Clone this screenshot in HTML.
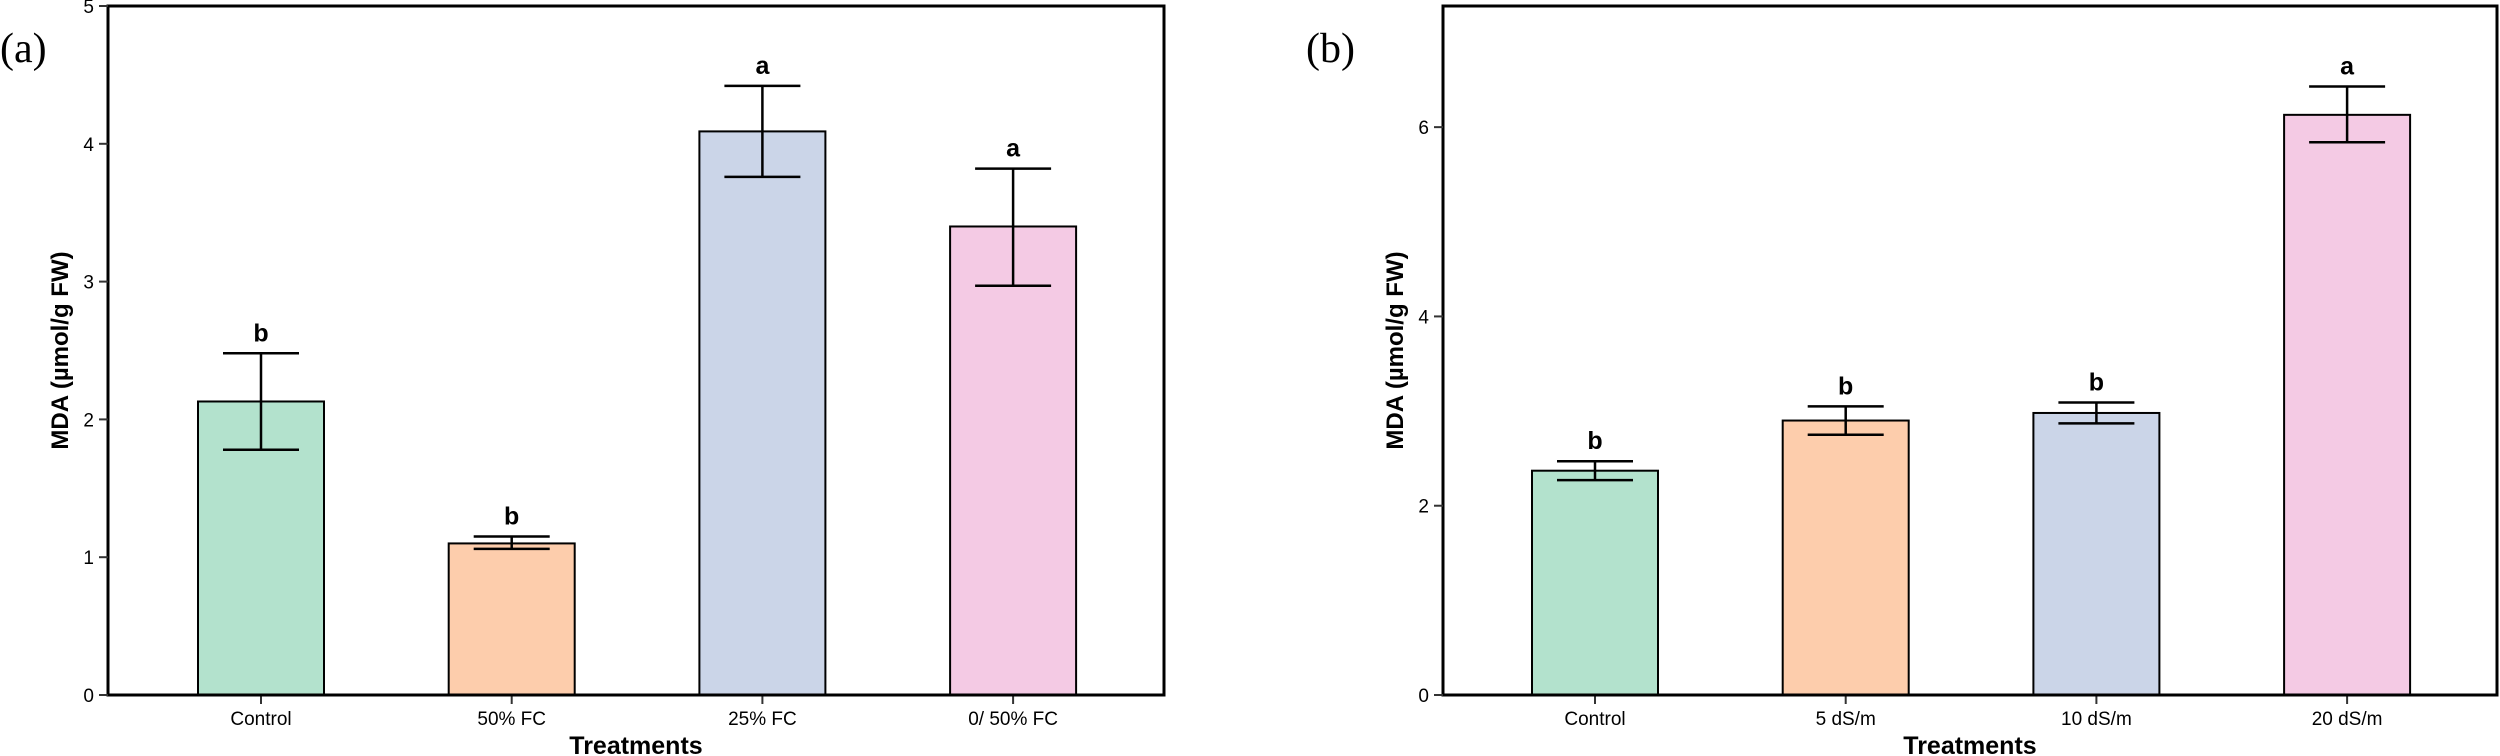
<!DOCTYPE html>
<html><head><meta charset="utf-8"><style>
html,body{margin:0;padding:0;background:#fff;}
svg{display:block;font-family:"Liberation Sans",Arial,sans-serif;}
</style></head><body>
<svg id="chart" width="2500" height="756" viewBox="0 0 2500 756" xmlns="http://www.w3.org/2000/svg"></svg>
<script>
const catsA = ["Control","50% FC","25% FC","0/ 50% FC"];
const valsA = [2.13,1.10,4.09,3.40];
const loA = [1.78,1.06,3.76,2.97];
const hiA = [2.48,1.15,4.42,3.82];
const letA = ["b","b","a","a"];
const ticksA = [0,1,2,3,4,5];
const catsB = ["Control","5 dS/m","10 dS/m","20 dS/m"];
const valsB = [2.37,2.90,2.98,6.13];
const loB = [2.27,2.75,2.87,5.84];
const hiB = [2.47,3.05,3.09,6.43];
const letB = ["b","b","b","a"];
const ticksB = [0,2,4,6];
const colors = ["#b3e2cd","#fdcdac","#cbd5e8","#f4cae4"];
const svg = document.getElementById('chart');
const NS = "http://www.w3.org/2000/svg";
function mk(tag, attrs, parent){const e=document.createElementNS(NS,tag);for(const k in attrs)e.setAttribute(k,attrs[k]);(parent||svg).appendChild(e);return e;}
function panel(id,label,labelX,x0,x1,yTop,yMax,cats,vals,lo,hi,lets,ticks,firstC,step){
  const y0=695;
  const g=mk('g',{});
  
  
  const ys=v=>y0-(v/yMax)*(y0-yTop);
  const xs=i=>firstC+i*step;
  const bw=126, cap=76;
  // bars
  cats.forEach((c,i)=>{
    const r=mk('rect',{x:xs(i)-bw/2,y:ys(vals[i]),width:bw,height:y0-ys(vals[i]),fill:colors[i],stroke:'#000','stroke-width':2},g);
    
    
    const e=mk('path',{d:`M${xs(i)} ${ys(lo[i])}V${ys(hi[i])}M${xs(i)-cap/2} ${ys(hi[i])}H${xs(i)+cap/2}M${xs(i)-cap/2} ${ys(lo[i])}H${xs(i)+cap/2}`,stroke:'#000','stroke-width':2.5,fill:'none'},g);
    
    
    const t=mk('text',{x:xs(i),y:ys(hi[i])-12,'text-anchor':'middle','font-size':25,'font-weight':'bold'},g);
    t.textContent=lets[i];
    
    
    mk('line',{x1:xs(i),x2:xs(i),y1:y0,y2:y0+9,stroke:'#333','stroke-width':2},g);
    const tl=mk('text',{x:xs(i),y:725,'text-anchor':'middle','font-size':19},g);
    tl.textContent=c;
    
    
  });
  // frame
  const f=mk('rect',{x:x0,y:yTop>6?6:yTop,width:x1-x0,height:y0-(yTop>6?6:yTop),fill:'none',stroke:'#000','stroke-width':3},g);
  
  
  ticks.forEach(v=>{
    mk('line',{x1:x0-9,x2:x0,y1:ys(v),y2:ys(v),stroke:'#333','stroke-width':2},g);
    const t=mk('text',{x:x0-14,y:ys(v)+7,'text-anchor':'end','font-size':19},g);
    t.textContent=v;
    
    
  });
  const yt=mk('text',{x:0,y:0,'text-anchor':'middle','font-size':24,'font-weight':'bold',transform:`translate(${x0-40},${(6+y0)/2}) rotate(-90)`},g);
  yt.textContent='MDA (µmol/g FW)';
  
  
  const xt=mk('text',{x:(x0+x1)/2,y:754,'text-anchor':'middle','font-size':25,'font-weight':'bold'},g);
  xt.textContent='Treatments';
  
  
  const pl=mk('text',{x:labelX,y:62,'font-size':42,'font-family':'"Liberation Serif",serif'},g);
  pl.textContent=label;
  
  
}
panel('a','(a)',0,108,1164,6,5,catsA,valsA,loA,hiA,letA,ticksA,261,250.7);
panel('b','(b)',1306,1443,2497,6,7.28,catsB,valsB,loB,hiB,letB,ticksB,1595,250.7);
</script>
</body></html>
